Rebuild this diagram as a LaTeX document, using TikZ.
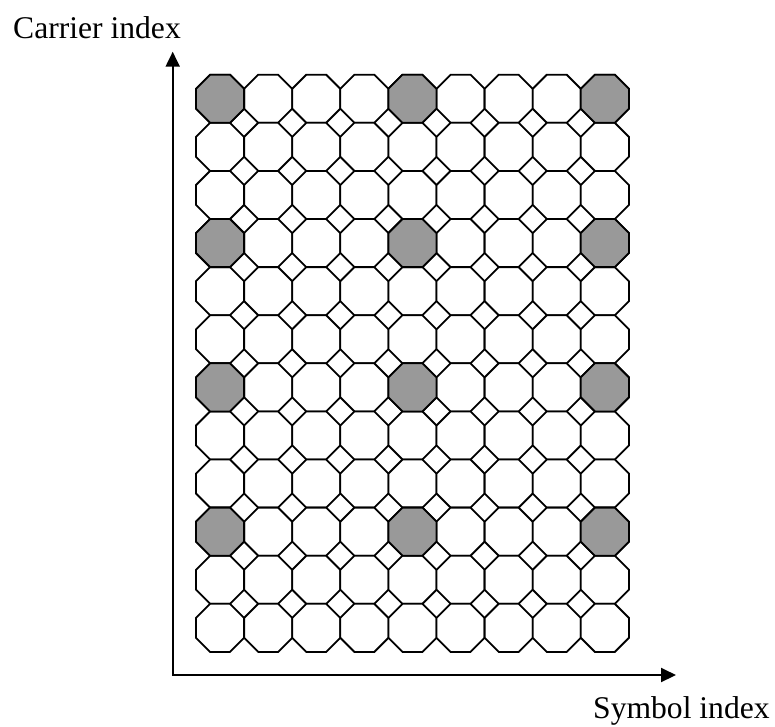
\documentclass[tikz,border=0pt]{standalone}
\usepackage{fontspec}
\setmainfont{Liberation Serif}
\usetikzlibrary{shapes.geometric, arrows.meta, positioning}
\definecolor{PilotGray}{RGB}{153,153,153}

\tikzset{
  cell/.style={regular polygon, regular polygon sides=8, minimum size=52.06pt,
    inner sep=0pt, draw=black, line width=1.8pt, fill=white},
  pilot/.style={cell, fill=PilotGray},
  axis/.style={line width=2pt,
    {Triangle[length=15pt,width=14pt]}-{Triangle[length=15pt,width=14pt]}},
  axislabel/.style={font=\fontsize{31.6}{38}\selectfont, inner sep=0pt}
}

\begin{document}
\begin{tikzpicture}[x=1pt,y=-1pt]
    \useasboundingbox (0,0) rectangle (775,726);

    % Axes
    \coordinate (origin) at (172.7,675);
    \coordinate (ytip) at (172.7,51.7);
    \coordinate (xtip) at (676,675);
    \draw[axis] (ytip) -- (origin) -- (xtip);

    % Cells
    \foreach \c in {0,...,8}
      \foreach \r in {0,...,11}
        \node[cell] (cell-\c-\r) at (220.05+48.1*\c, 98.75+48.1*\r) {};

    % Pilots
    \foreach \c in {0,4,8}
      \foreach \r in {0,3,6,9}
        \node[pilot] (pilot-\c-\r) at (cell-\c-\r) {};

    % Labels
    \node[axislabel, anchor=base west] (carrier) at (13,38) {Carrier index};
    \node[axislabel, anchor=base west] (symbol) at (593,718) {Symbol index};
\end{tikzpicture}
\end{document}
